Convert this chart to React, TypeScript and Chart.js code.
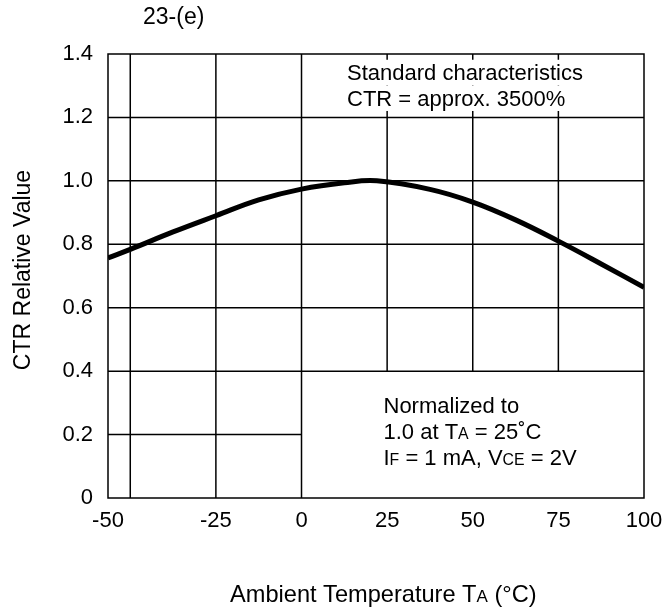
import React, { useEffect, useRef } from "react";
import { Chart, registerables } from "chart.js";

Chart.register(...registerables);

// ---- data ----
const TEMPS = [-56.5, -50, -37.5, -25, -12.5, 0, 12.5, 22, 37.5, 50, 62.5, 75, 87.5, 100];
const CTR_REL = [0.757, 0.784, 0.839, 0.89, 0.94, 0.974, 0.994, 1.0, 0.973, 0.933, 0.877, 0.81, 0.738, 0.664];

const X_MIN = -56.5;
const X_MAX = 100;
const X_TICKS = [-50, -25, 0, 25, 50, 75, 100];
const X_TICK_LABELS = ["-50", "-25", "0", "25", "50", "75", "100"];
const Y_MIN = 0;
const Y_MAX = 1.4;
const Y_STEP = 0.2;

// grid segments: [value, from, to]
const H_GRID: [number, number, number][] = [
  [1.2, X_MIN, X_MAX],
  [1.0, X_MIN, X_MAX],
  [0.8, X_MIN, X_MAX],
  [0.6, X_MIN, X_MAX],
  [0.4, X_MIN, X_MAX],
  [0.2, X_MIN, 0],
];
const V_GRID: [number, number, number][] = [
  [-50, Y_MIN, Y_MAX],
  [-25, Y_MIN, Y_MAX],
  [0, Y_MIN, Y_MAX],
  [25, 0.4, Y_MAX],
  [50, 0.4, Y_MAX],
  [75, 0.4, Y_MAX],
];

type Part = { t: string; sub?: boolean };
const CHART_TAG = "23-(e)";
const NOTE_TOP: Part[][] = [
  [{ t: "Standard characteristics" }],
  [{ t: "CTR = approx. 3500%" }],
];
const NOTE_BOTTOM: Part[][] = [
  [{ t: "Normalized to" }],
  [{ t: "1.0 at T" }, { t: "A", sub: true }, { t: " = 25˚C" }],
  [{ t: "I" }, { t: "F", sub: true }, { t: " = 1 mA, V" }, { t: "CE", sub: true }, { t: " = 2V" }],
];
const X_TITLE: Part[] = [
  { t: "Ambient Temperature T" },
  { t: "A", sub: true },
  { t: " (°C)" },
];
const Y_TITLE = "CTR Relative Value";

const FAMILY = "'Liberation Sans', Arial, Helvetica, sans-serif";
const SUB = 0.72;

function richWidth(ctx: CanvasRenderingContext2D, parts: Part[], size: number) {
  let w = 0;
  for (const p of parts) {
    ctx.font = `${p.sub ? size * SUB : size}px ${FAMILY}`;
    w += ctx.measureText(p.t).width;
  }
  return w;
}

function drawRich(
  ctx: CanvasRenderingContext2D,
  parts: Part[],
  x: number,
  y: number,
  size: number,
  bg: boolean
) {
  const w = richWidth(ctx, parts, size);
  if (bg) {
    ctx.fillStyle = "#fff";
    ctx.fillRect(x - 1, y - size * 0.92, w + 2, size * 1.16);
  }
  ctx.fillStyle = "#000";
  ctx.textAlign = "left";
  ctx.textBaseline = "alphabetic";
  let cx = x;
  for (const p of parts) {
    ctx.font = `${p.sub ? size * SUB : size}px ${FAMILY}`;
    ctx.fillText(p.t, cx, y);
    cx += ctx.measureText(p.t).width;
  }
}

const gridPlugin = {
  id: "gridAndNotes",
  beforeDatasetsDraw(chart: any) {
    const { ctx, scales, chartArea } = chart;
    const x = scales.x;
    const y = scales.y;
    ctx.save();
    ctx.strokeStyle = "#000";
    ctx.lineWidth = 1.5;
    for (const [v, a, b] of H_GRID) {
      const py = y.getPixelForValue(v);
      ctx.beginPath();
      ctx.moveTo(x.getPixelForValue(a), py);
      ctx.lineTo(x.getPixelForValue(b), py);
      ctx.stroke();
    }
    for (const [v, a, b] of V_GRID) {
      const px = x.getPixelForValue(v);
      ctx.beginPath();
      ctx.moveTo(px, y.getPixelForValue(a));
      ctx.lineTo(px, y.getPixelForValue(b));
      ctx.stroke();
    }
    ctx.strokeRect(
      chartArea.left,
      chartArea.top,
      chartArea.right - chartArea.left,
      chartArea.bottom - chartArea.top
    );

    // annotations
    const size = 22;
    const tx = 347;
    NOTE_TOP.forEach((line, i) => drawRich(ctx, line, tx, 80 + i * 25.7, size, true));
    const bx = 383.5;
    NOTE_BOTTOM.forEach((line, i) => drawRich(ctx, line, bx, 413.3 + i * 25.9, size, false));
    ctx.restore();
  },
  afterDraw(chart: any) {
    const { ctx } = chart;
    ctx.save();
    // tag
    ctx.fillStyle = "#000";
    ctx.font = `23px ${FAMILY}`;
    ctx.textAlign = "left";
    ctx.textBaseline = "alphabetic";
    ctx.fillText(CHART_TAG, 143, 24);
    // x title
    drawRich(ctx, X_TITLE, 230, 602, 23.6, false);
    // y title
    ctx.translate(24, 270);
    ctx.rotate(-Math.PI / 2);
    ctx.font = `23px ${FAMILY}`;
    ctx.fillStyle = "#000";
    ctx.textAlign = "center";
    ctx.textBaseline = "middle";
    ctx.fillText(Y_TITLE, 0, 0);
    ctx.restore();
  },
};

export default function App() {
  const ref = useRef<HTMLCanvasElement>(null);

  useEffect(() => {
    const canvas = ref.current;
    if (!canvas) return;
    const chart = new Chart(canvas, {
      type: "line",
      data: {
        datasets: [
          {
            data: TEMPS.map((t, i) => ({ x: t, y: CTR_REL[i] })),
            borderColor: "#000",
            borderWidth: 5,
            pointRadius: 0,
            fill: false,
            tension: 0.4,
          },
        ],
      },
      options: {
        responsive: false,
        animation: false,
        devicePixelRatio: 1,
        events: [],
        layout: { padding: { left: 0, right: 20, top: 54, bottom: 0 } },
        plugins: {
          legend: { display: false },
          tooltip: { enabled: false },
          title: { display: false },
        },
        scales: {
          x: {
            type: "linear",
            min: X_MIN,
            max: X_MAX,
            grid: { display: false, drawTicks: false },
            border: { display: false },
            afterBuildTicks: (s: any) => {
              // the reference prints its first label ("-50") at the left frame edge
              s.ticks = X_TICKS.map((v, i) => ({ value: i === 0 ? X_MIN : v }));
            },
            afterFit: (s: any) => {
              s.height = 111;
              s.paddingLeft = 0;
              s.paddingRight = 0;
            },
            ticks: {
              autoSkip: false,
              maxRotation: 0,
              padding: 10,
              color: "#000",
              font: { family: FAMILY, size: 22 },
              callback: (_v: any, i: number) => X_TICK_LABELS[i],
            },
          },
          y: {
            type: "linear",
            min: Y_MIN,
            max: Y_MAX,
            grid: { display: false, drawTicks: false },
            border: { display: false },
            afterFit: (s: any) => {
              s.width = 108;
              s.paddingTop = 0;
              s.paddingBottom = 0;
            },
            ticks: {
              stepSize: Y_STEP,
              padding: 15,
              color: "#000",
              font: { family: FAMILY, size: 22 },
              callback: (v: any) => (Number(v) === 0 ? "0" : Number(v).toFixed(1)),
            },
          },
        },
      },
      plugins: [gridPlugin],
    } as any);
    return () => chart.destroy();
  }, []);

  return (
    <div style={{ position: "absolute", left: 0, top: 0, width: 664, height: 609, background: "#fff" }}>
      <canvas ref={ref} width={664} height={609} style={{ display: "block", width: 664, height: 609 }} />
    </div>
  );
}
